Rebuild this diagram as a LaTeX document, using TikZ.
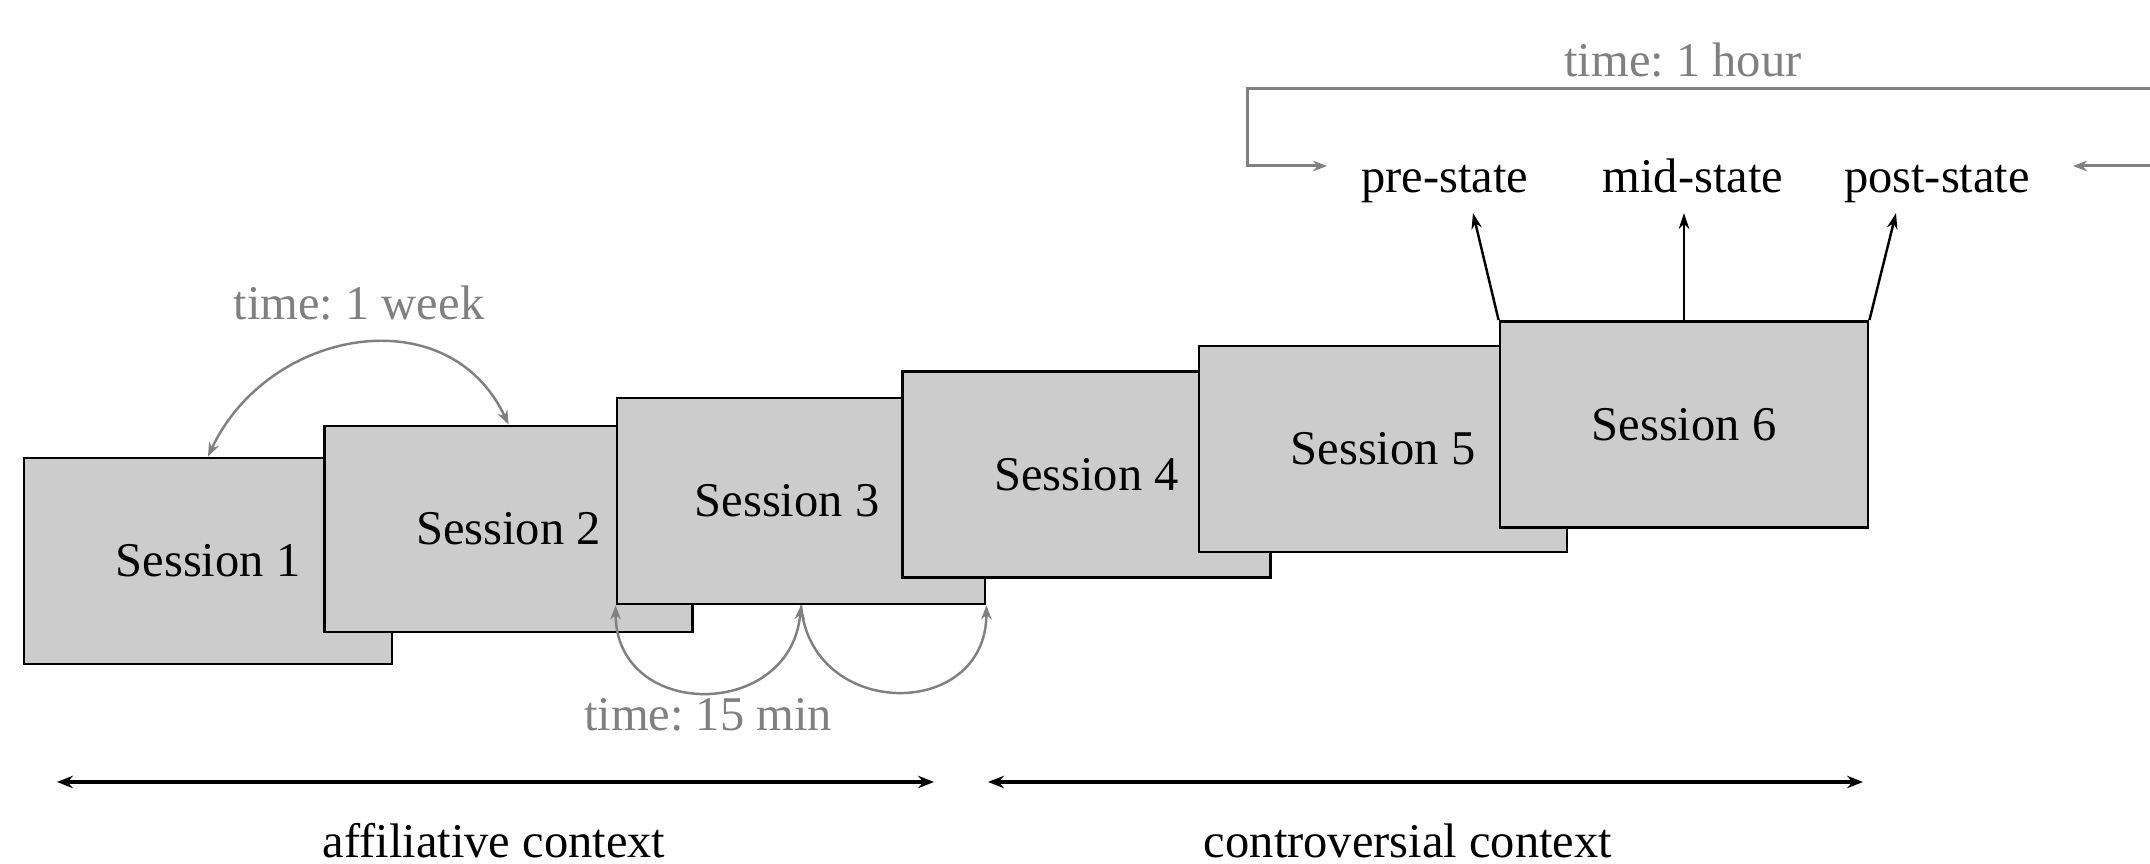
\documentclass[tikz,border=0pt]{standalone}
\usepackage{fontspec}
\setmainfont{Liberation Serif}
\usepackage{xcolor}
\usetikzlibrary{arrows.meta,positioning,calc}

\definecolor{boxgray}{RGB}{204,204,204}
\definecolor{timegray}{RGB}{128,128,128}

\tikzset{
  sessbox/.style={draw,line width=0.8pt,fill=boxgray,minimum width=3.68cm,minimum height=2.06cm},
  timelbl/.style={text=timegray},
  statelbl/.style={anchor=base,text depth=0.22em},
  ctxlbl/.style={inner sep=1pt},
  timearc/.style={draw=timegray,line width=0.7pt},
  statearrow/.style={line width=0.7pt,-{Stealth[length=4.5pt,width=3pt]}},
  ctxarrow/.style={line width=0.9pt,{Stealth[length=4.5pt,width=3.5pt]}-{Stealth[length=4.5pt,width=3.5pt]}}
}

\begin{document}
\frenchspacing
\begin{tikzpicture}[font=\fontsize{13.8}{16}\selectfont,>={Stealth[length=4pt,width=3pt]}]
  \useasboundingbox (0,0) rectangle (21.5,8.64);
  % sessions, each one drawn over the previous
  \node[sessbox] (s1) at (2.08,3.03) {Session 1};
  \node[sessbox] (s2) at (5.085,3.35) {Session 2};
  \node[sessbox] (s3) at (8.01,3.63) {\hspace*{-0.28cm}Session 3};
  \node[sessbox] (s4) at (10.865,3.895) {Session 4};
  \node[sessbox] (s5) at (13.83,4.15) {Session 5};
  \node[sessbox] (s6) at (16.84,4.395) {Session 6};
  % time labels
  \node[timelbl] (week) at (3.59,5.605) {time: 1 week};
  \node[timelbl] (quarter) at (7.08,1.49) {time: 15 min};
  \node[timelbl] (hour) at (16.83,8.04) {time: 1 hour};
  \draw[timearc,<->] (s1.north) to[out=65,in=115,looseness=1.2] (s2.north);
  \draw[timearc,<->] (s3.south west) to[out=-90,in=-95,looseness=1.6] (s3.south);
  \draw[timearc,->] (s3.south) to[out=-85,in=-90,looseness=1.6] (s3.south east);
  % states measured in session 6
  \node[statelbl] (pre) at (14.45,6.71) {pre-state};
  \node[statelbl] (mid) at (16.93,6.71) {mid-state};
  \node[statelbl] (post) at (19.37,6.71) {post-state};
  \draw[statearrow] (s6.north west) -- ([xshift=0.28cm]pre.south);
  \draw[statearrow] (s6.north) -- (s6.north |- mid.south);
  \draw[statearrow] (s6.north east) -- ([xshift=-0.41cm]post.south);
  \coordinate (pre-in) at (13.27,6.98);
  \coordinate (post-in) at (20.73,6.98);
  \coordinate (hour-l) at (12.47,7.75);
  \coordinate (hour-r) at (21.56,7.75);
  \draw[timearc,line width=0.85pt,<->] (pre-in) -| (hour-l) -- (hour-r) |- (post-in);
  % contexts
  \coordinate (aff-l) at (0.57,0.82);
  \coordinate (aff-r) at (9.34,0.82);
  \coordinate (con-l) at (9.88,0.82);
  \coordinate (con-r) at (18.63,0.82);
  \draw[ctxarrow] (aff-l) -- (aff-r);
  \draw[ctxarrow] (con-l) -- (con-r);
  \node[ctxlbl] (aff) at (4.94,0.23) {affiliative context};
  \node[ctxlbl] (con) at (14.08,0.23) {controversial context};
\end{tikzpicture}
\end{document}
